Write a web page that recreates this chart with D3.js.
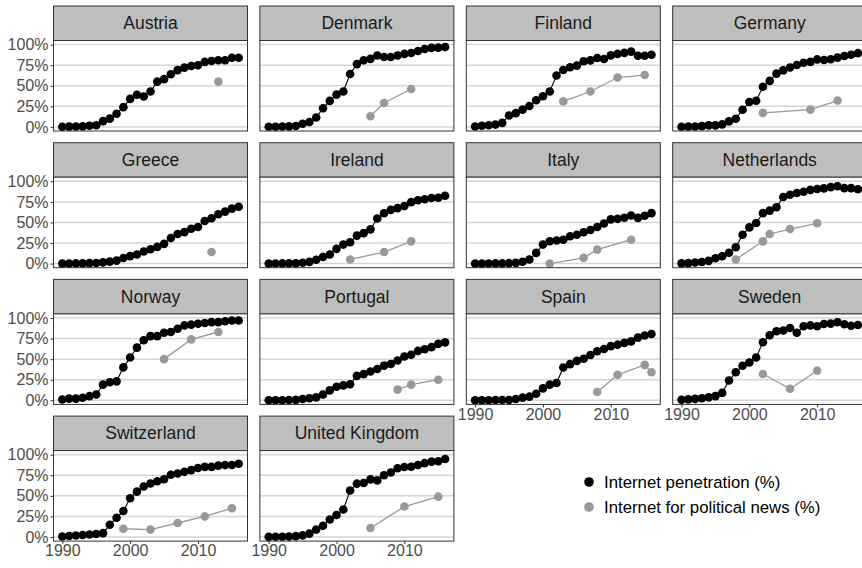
<!DOCTYPE html>
<html>
<head>
<meta charset="utf-8">
<script src="https://cdn.jsdelivr.net/npm/d3@7"></script>
<style>
  body { margin: 0; background: #fff; }
  svg { display: block; }
  text { font-family: "Liberation Sans", Arial, Helvetica, sans-serif; }
</style>
</head>
<body>
<svg id="chart" width="862" height="568"></svg>
<script>
// Facet order (row by row)
const countries = ["Austria", "Denmark", "Finland", "Germany", "Greece", "Ireland", "Italy",
  "Netherlands", "Norway", "Portugal", "Spain", "Sweden", "Switzerland", "United Kingdom"];

const years = [1990, 1991, 1992, 1993, 1994, 1995, 1996, 1997, 1998, 1999, 2000, 2001, 2002,
  2003, 2004, 2005, 2006, 2007, 2008, 2009, 2010, 2011, 2012, 2013, 2014, 2015, 2016];

// Internet penetration (% of population), one value per year 1990–2016
const penAustria = [0.1, 0.3, 0.4, 0.6, 1.3, 1.9, 7, 10, 16, 24, 34, 39, 37, 43, 55, 58, 64, 69, 72, 74, 75, 79, 80, 81, 81, 84, 84];
const penDenmark = [0.1, 0.2, 0.4, 0.6, 1, 3.8, 5.9, 11.4, 22.6, 31.6, 39.2, 43, 64.3, 76.3, 80.9, 82.7, 86.7, 85, 85, 86.8, 88.7, 89.8, 92.3, 94.6, 96, 96.3, 97];
const penFinland = [0.4, 1.4, 2, 2.8, 4.9, 13.9, 16.7, 21, 25.4, 32.3, 37.2, 43.1, 62.4, 69.2, 72.4, 74.5, 79.7, 80.8, 83.7, 82.5, 86.9, 88.7, 89.9, 91.5, 86.5, 86.4, 87.7];
const penGermany = [0.1, 0.3, 0.4, 0.9, 1.8, 1.8, 3, 6.7, 9.9, 20.8, 30.2, 31.7, 48.8, 55.9, 64.7, 68.7, 72.2, 75.2, 78, 79, 82, 81.3, 82.3, 84.2, 86.2, 87.6, 89.6];
const penGreece = [0, 0.1, 0.2, 0.3, 0.6, 0.8, 1.5, 2.4, 3.6, 6.7, 9.1, 11, 14.7, 17.4, 20.3, 24, 31, 35.9, 38.2, 42.4, 44.4, 51.7, 55.1, 59.9, 63.2, 66.8, 69.1];
const penIreland = [0, 0.1, 0.2, 0.3, 0.3, 1.1, 2.1, 4.7, 8.1, 11, 17.9, 23.1, 25.9, 34, 37, 41.6, 54.8, 61.2, 65.3, 67.4, 69.9, 74.7, 76.9, 78.2, 79.7, 80.1, 82.5];
const penItaly = [0, 0, 0.1, 0.2, 0.2, 0.5, 0.9, 2.3, 5, 13, 23.1, 27.2, 28, 29, 33.2, 35, 38, 40.8, 44.5, 48.8, 53.7, 54.4, 55.8, 58.5, 55.6, 58.1, 61.3];
const penNetherlands = [0.3, 0.6, 1.3, 2, 3.3, 6.5, 9, 13.2, 19.8, 35, 44, 49.4, 61.3, 64.4, 68.5, 81, 83.7, 85.8, 87.4, 89.6, 90.7, 91.4, 92.9, 94, 91.7, 91.7, 90.4];
const penNorway = [1, 2, 2, 3, 5, 7, 19, 22, 23, 40, 52, 64, 73, 78, 78, 82, 83, 87, 91, 92, 93, 94, 95, 95, 96, 97, 97];
const penPortugal = [0, 0, 0.1, 0.3, 0.5, 1.5, 2.5, 3.5, 7, 12, 16.4, 18.1, 19.4, 29.7, 31.8, 35, 38, 42.1, 44.1, 48.3, 53.3, 55.3, 60, 62.1, 64.6, 68.6, 70.4];
const penSpain = [0, 0.1, 0.1, 0.3, 0.4, 0.4, 1.6, 3.2, 4.4, 8, 14.5, 19, 21, 39.9, 44, 47.9, 50.4, 55.1, 59.6, 62.4, 65.8, 67.6, 69.8, 71.6, 76.2, 78.7, 80.6];
const penSweden = [0.6, 1.1, 1.7, 2.5, 3.5, 5.1, 9, 24, 34, 42, 46, 52, 70.6, 79.1, 83.9, 84.8, 87.8, 82, 90, 91, 90, 92.8, 93.2, 94.8, 92.5, 90.6, 91.5];
const penSwitzerland = [0.6, 1.2, 1.8, 2.4, 3, 3.7, 4.7, 14.9, 23.3, 31.5, 47.1, 55.1, 61.4, 65.1, 67.8, 70.1, 75.7, 77.2, 79.2, 81.3, 83.9, 85.2, 85.2, 86.7, 87.4, 87.5, 89.1];
const penUK = [0.1, 0.2, 0.3, 0.5, 1, 1.9, 4.1, 9, 13.7, 21.3, 26.8, 33.5, 56.5, 64.8, 65.6, 70, 68.8, 75.1, 78.4, 83.6, 85, 85.4, 87.5, 89.8, 91.6, 92, 94.8];

// Internet used as a source of political news (%), survey years only: [year, value]
const newsAustria = [[2013, 55]];
const newsDenmark = [[2005, 13], [2007, 29], [2011, 46]];
const newsFinland = [[2003, 31], [2007, 43], [2011, 60], [2015, 63]];
const newsGermany = [[2002, 17], [2009, 21], [2013, 32]];
const newsGreece = [[2012, 14]];
const newsIreland = [[2002, 5], [2007, 14], [2011, 27]];
const newsItaly = [[2001, 0], [2006, 7], [2008, 17], [2013, 29]];
const newsNetherlands = [[1998, 5], [2002, 27], [2003, 36], [2006, 42], [2010, 49]];
const newsNorway = [[2005, 50], [2009, 74], [2013, 83]];
const newsPortugal = [[2009, 13], [2011, 19], [2015, 25]];
const newsSpain = [[2008, 10], [2011, 31], [2015, 43], [2016, 34]];
const newsSweden = [[2002, 32], [2006, 14], [2010, 36]];
const newsSwitzerland = [[1999, 10], [2003, 9], [2007, 17], [2011, 25], [2015, 35]];
const newsUK = [[2005, 11], [2010, 37], [2015, 49]];

const yTicks = [0, 25, 50, 75, 100];
const xTicks = [1990, 2000, 2010];
const legendLabels = ["Internet penetration (%)", "Internet for political news (%)"];

const penetration = [penAustria, penDenmark, penFinland, penGermany, penGreece, penIreland, penItaly,
  penNetherlands, penNorway, penPortugal, penSpain, penSweden, penSwitzerland, penUK];
const news = [newsAustria, newsDenmark, newsFinland, newsGermany, newsGreece, newsIreland, newsItaly,
  newsNetherlands, newsNorway, newsPortugal, newsSpain, newsSweden, newsSwitzerland, newsUK];

// ---- layout ----
const nCols = 4;
const panelW = 194, panelH = 90.5, stripH = 34.5;
const colStep = 206.4, rowStep = 136.7;
const left0 = 53.5, top0 = 40.5;

const colPen = "#000000", colNews = "#999999";
const gridCol = "#d6d6d6", borderCol = "#333333", stripFill = "#bebebe";
const tickTextCol = "#4d4d4d";
const tickFont = 16, stripFont = 17.5, legendFont = 16.8;

const x = d3.scaleLinear().domain([1990 - 1.3, 2016 + 1.3]).range([0, panelW]);
const y = d3.scaleLinear().domain([-5, 105]).range([panelH, 0]);

const svg = d3.select("#chart");
svg.append("rect").attr("width", 862).attr("height", 568).attr("fill", "#fff");

const line = d3.line().x(d => x(d[0])).y(d => y(d[1]));

countries.forEach((name, i) => {
  const c = i % nCols, r = Math.floor(i / nCols);
  const px = left0 + c * colStep, py = top0 + r * rowStep;
  const g = svg.append("g").attr("transform", `translate(${px},${py})`);

  // strip
  g.append("rect").attr("x", 0).attr("y", -stripH).attr("width", panelW).attr("height", stripH)
    .attr("fill", stripFill).attr("stroke", borderCol).attr("stroke-width", 1);
  g.append("text").attr("x", panelW / 2).attr("y", -stripH / 2).attr("dy", "0.35em")
    .attr("text-anchor", "middle").attr("font-size", stripFont).attr("fill", "#1a1a1a").text(name);

  // panel background and horizontal grid
  g.append("rect").attr("width", panelW).attr("height", panelH).attr("fill", "#fff");
  g.append("g").selectAll("line").data(yTicks).join("line")
    .attr("x1", 0).attr("x2", panelW).attr("y1", d => y(d)).attr("y2", d => y(d))
    .attr("stroke", gridCol).attr("stroke-width", 1.5);

  // penetration series
  const pen = years.map((yr, k) => [yr, penetration[i][k]]);
  g.append("path").datum(pen).attr("d", line).attr("fill", "none")
    .attr("stroke", colPen).attr("stroke-width", 1.1);
  g.append("g").selectAll("circle").data(pen).join("circle")
    .attr("cx", d => x(d[0])).attr("cy", d => y(d[1])).attr("r", 4.3).attr("fill", colPen);

  // political news series
  const nw = news[i];
  if (nw.length > 1) {
    g.append("path").datum(nw).attr("d", line).attr("fill", "none")
      .attr("stroke", colNews).attr("stroke-width", 1.3);
  }
  g.append("g").selectAll("circle").data(nw).join("circle")
    .attr("cx", d => x(d[0])).attr("cy", d => y(d[1])).attr("r", 4.3).attr("fill", colNews);

  // panel border
  g.append("rect").attr("width", panelW).attr("height", panelH)
    .attr("fill", "none").attr("stroke", borderCol).attr("stroke-width", 1);

  // y axis on the first column
  if (c === 0) {
    const ya = g.append("g").call(d3.axisLeft(y).tickValues(yTicks).tickSize(3).tickPadding(2)
      .tickFormat(d => d + "%"));
    ya.select(".domain").remove();
    ya.selectAll("line").attr("stroke", borderCol);
    ya.selectAll("text").attr("font-size", tickFont).attr("fill", tickTextCol)
      .style("font-family", '"Liberation Sans", Arial, sans-serif');
  }

  // x axis on panels with nothing below them
  if (i + nCols >= countries.length) {
    const xa = g.append("g").attr("transform", `translate(0,${panelH})`)
      .call(d3.axisBottom(x).tickValues(xTicks).tickSize(3).tickPadding(1).tickFormat(d3.format("d")));
    xa.select(".domain").remove();
    xa.selectAll("line").attr("stroke", borderCol);
    xa.selectAll("text").attr("font-size", tickFont).attr("fill", tickTextCol)
      .style("font-family", '"Liberation Sans", Arial, sans-serif');
  }
});

// legend
const legend = svg.append("g").attr("transform", "translate(589,482)");
[colPen, colNews].forEach((col, k) => {
  const row = legend.append("g").attr("transform", `translate(0,${k * 25})`);
  row.append("circle").attr("r", 4.8).attr("fill", col);
  row.append("text").attr("x", 15).attr("dy", "0.35em").attr("font-size", legendFont)
    .attr("fill", "#000").text(legendLabels[k]);
});
</script>
</body>
</html>
